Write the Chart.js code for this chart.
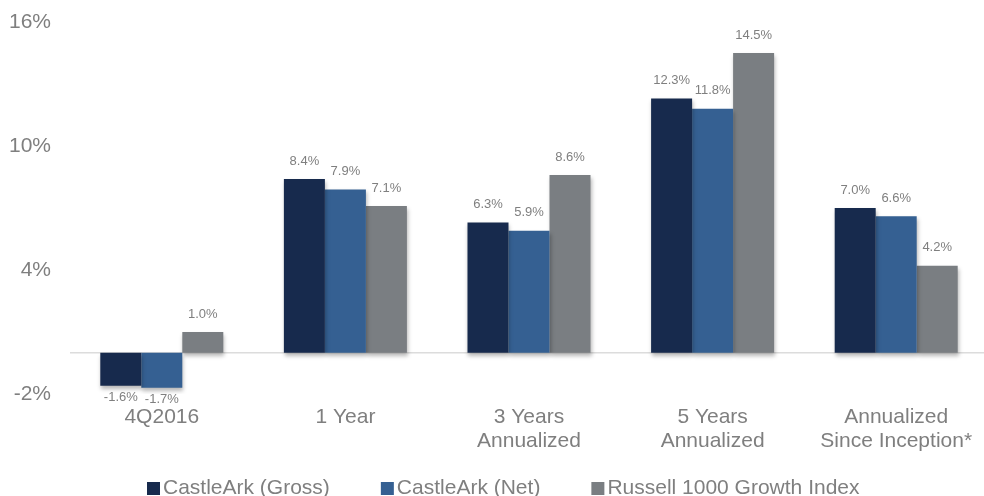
<!DOCTYPE html>
<html>
<head>
<meta charset="utf-8">
<script src="https://cdn.jsdelivr.net/npm/chart.js@4"></script>
<style>
  html, body { margin: 0; padding: 0; background: #fff; overflow: hidden; }
  canvas { display: block; }
</style>
</head>
<body>
<canvas id="grafica" width="988" height="496"></canvas>
<script>
const categorias = ['4Q2016', '1 Year', ['3 Years', 'Annualized'], ['5 Years', 'Annualized'], ['Annualized', 'Since Inception*']];
const gross = [-1.6, 8.4, 6.3, 12.3, 7.0];
const net = [-1.7, 7.9, 5.9, 11.8, 6.6];
const russell = [1.0, 7.1, 8.6, 14.5, 4.2];
const yTicks = [-2, 4, 10, 16];

const FONT = "'Liberation Sans', Arial, sans-serif";
const GRIS = '#7f7f7f';

// linea del cero + sombra suave en las barras
const extras = {
    id: 'extras',
    beforeDatasetsDraw(chart) {
        const { ctx, chartArea, scales } = chart;
        const y0 = scales.y.getPixelForValue(0);
        ctx.save();
        ctx.strokeStyle = '#dcdcdc';
        ctx.lineWidth = 1.5;
        ctx.beginPath();
        ctx.moveTo(chartArea.left, y0);
        ctx.lineTo(chartArea.right, y0);
        ctx.stroke();
        ctx.restore();
        ctx.save();
        ctx.shadowColor = 'rgba(0,0,0,0.28)';
        ctx.shadowBlur = 4;
        ctx.shadowOffsetX = 1;
        ctx.shadowOffsetY = 3;
    },
    afterDatasetsDraw(chart) {
        const { ctx } = chart;
        ctx.restore();
        // etiquetas de valores
        ctx.save();
        ctx.font = '13px ' + FONT;
        ctx.fillStyle = GRIS;
        ctx.textAlign = 'center';
        ctx.textBaseline = 'middle';
        chart.data.datasets.forEach((ds, i) => {
            chart.getDatasetMeta(i).data.forEach((bar, j) => {
                const v = ds.data[j];
                const y = v >= 0 ? bar.y - 18 : bar.y + 12;
                ctx.fillText(v.toFixed(1) + '%', bar.x, y);
            });
        });
        ctx.restore();
    },
    afterDraw(chart) {
        // leyenda
        const { ctx } = chart;
        ctx.save();
        ctx.font = '21px ' + FONT;
        ctx.textBaseline = 'middle';
        ctx.textAlign = 'left';
        let x = 147;
        const y = 488;
        chart.data.datasets.forEach(ds => {
            ctx.fillStyle = ds.backgroundColor;
            ctx.fillRect(x, y - 6, 13, 13);
            x += 16;
            ctx.fillStyle = GRIS;
            ctx.fillText(ds.label, x, y);
            x += ctx.measureText(ds.label).width + 51;
        });
        ctx.restore();
    }
};

new Chart(document.getElementById('grafica'), {
    type: 'bar',
    data: {
        labels: categorias,
        datasets: [
            { label: 'CastleArk (Gross)', data: gross, backgroundColor: '#172A4D' },
            { label: 'CastleArk (Net)', data: net, backgroundColor: '#356092' },
            { label: 'Russell 1000 Growth Index', data: russell, backgroundColor: '#7A7E82' }
        ]
    },
    options: {
        responsive: false,
        animation: false,
        devicePixelRatio: 1,
        layout: { padding: { top: 22, right: 0, bottom: 0, left: 0 } },
        datasets: { bar: { barPercentage: 1, categoryPercentage: 0.67 } },
        plugins: { legend: { display: false }, tooltip: { enabled: false } },
        scales: {
            x: {
                grid: { display: false, drawTicks: false },
                border: { display: false },
                ticks: {
                    color: GRIS,
                    padding: 11,
                    maxRotation: 0,
                    font: { family: FONT, size: 21, lineHeight: 24 / 21 }
                },
                afterFit(scale) { scale.height = 102; scale.paddingLeft = 0; scale.paddingRight = 0; }
            },
            y: {
                min: -2,
                max: 16,
                grid: { display: false, drawTicks: false },
                border: { display: false },
                ticks: {
                    color: GRIS,
                    padding: 19,
                    font: { family: FONT, size: 21 },
                    callback: v => v + '%'
                },
                afterBuildTicks(scale) { scale.ticks = yTicks.map(v => ({ value: v })); },
                afterFit(scale) { scale.width = 70; scale.paddingTop = 0; scale.paddingBottom = 0; }
            }
        }
    },
    plugins: [extras]
});
</script>
</body>
</html>
